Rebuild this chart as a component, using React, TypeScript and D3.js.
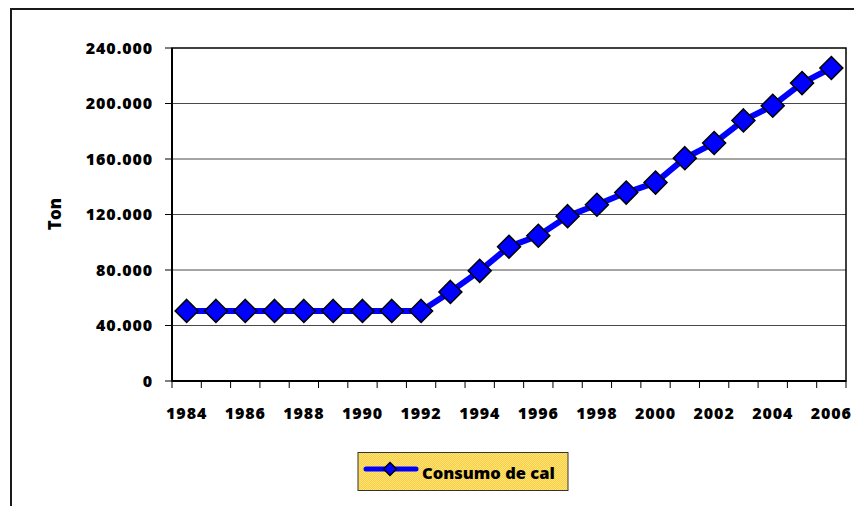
import React from 'react';
import * as d3 from 'd3';

// datos
const years = d3.range(1984, 2007).map(String);
const consumo = [
  50500, 50500, 50500, 50500, 50500, 50500, 50500, 50500, 50500,
  64200, 79400, 96800, 104700, 118800, 127000, 135800, 143000,
  160600, 171500, 187800, 198400, 214700, 225600,
];
const yTicks = [0, 40000, 80000, 120000, 160000, 200000, 240000];
const xLabels = years.filter((_, i) => i % 2 === 0);
const seriesName = 'Consumo de cal';
const yTitle = 'Ton';

const W = 854;
const H = 506;
const plot = { left: 172, top: 48, right: 846, bottom: 381 };

const fmt = (v: number) => (v === 0 ? '0' : d3.format(',')(v).replace(/,/g, '.'));

const font = '"Open Sans", Lato, sans-serif';

export default function App() {
  const x = d3.scaleBand<string>().domain(years).range([plot.left, plot.right]);
  const y = d3.scaleLinear().domain([0, 240000]).range([plot.bottom, plot.top]);

  const pts = consumo.map((v, i) => [x(years[i])! + x.bandwidth() / 2, y(v)] as [number, number]);
  const line = d3.line()(pts) || '';
  const diamond = (s: number) => `M0,${-s}L${s},0L0,${s}L${-s},0Z`;

  // bordes de categoría para las marcas del eje x
  const xEdges = years.map(c => x(c)!).concat([plot.right]);

  return (
    <svg width={W} height={H} style={{ position: 'absolute', left: 0, top: 0 }} fontFamily={font}>
      <defs>
        <pattern id="dots" width={2} height={2} patternUnits="userSpaceOnUse">
          <rect width={2} height={2} fill="#f8cf40" />
          <rect width={1} height={1} fill="#ffe27a" />
          <rect x={1} y={1} width={1} height={1} fill="#ffe27a" />
        </pattern>
      </defs>
      <rect width={W} height={H} fill="#fff" />
      {/* marco exterior (recortado a la derecha y abajo) */}
      <path d={`M11,${H + 2}V9H${W + 2}`} fill="none" stroke="#1a1a1a" strokeWidth={2} />

      {/* rejilla */}
      {yTicks.slice(1, -1).map(t => (
        <line key={t} x1={plot.left} x2={plot.right} y1={y(t)} y2={y(t)} stroke="#4a4a4a" strokeWidth={1} />
      ))}
      <rect x={plot.left} y={plot.top} width={plot.right - plot.left} height={plot.bottom - plot.top}
        fill="none" stroke="#000" strokeWidth={1.5} />
      <line x1={plot.left} x2={plot.left} y1={plot.top} y2={plot.bottom} stroke="#000" strokeWidth={2} />
      <line x1={plot.left} x2={plot.right} y1={plot.bottom} y2={plot.bottom} stroke="#000" strokeWidth={2} />

      {/* eje y */}
      {yTicks.map(t => (
        <g key={t}>
          <line x1={plot.left - 7} x2={plot.left} y1={y(t)} y2={y(t)} stroke="#000" strokeWidth={1} />
          <text x={153} y={y(t)} dy="0.35em" textAnchor="end" fontSize={16} fontWeight={800}
            letterSpacing={0.9}>{fmt(t)}</text>
        </g>
      ))}
      <text transform={`translate(61,214) rotate(-90)`} textAnchor="middle" fontSize={17}
        fontWeight={800}>{yTitle}</text>

      {/* eje x */}
      {xEdges.map((e, i) => (
        <line key={i} x1={e} x2={e} y1={plot.bottom} y2={plot.bottom + 7} stroke="#000" strokeWidth={1} />
      ))}
      {xLabels.map(c => (
        <text key={c} x={x(c)! + x.bandwidth() / 2} y={419} textAnchor="middle" fontSize={16}
          fontWeight={800} letterSpacing={0.9}>{c}</text>
      ))}

      {/* serie */}
      <path d={line} fill="none" stroke="#0000ff" strokeWidth={6} strokeLinejoin="round" />
      {pts.map(([px, py], i) => (
        <path key={i} d={diamond(11.5)} transform={`translate(${px},${py})`} fill="#0000ff"
          stroke="#000" strokeWidth={1.5} />
      ))}

      {/* leyenda */}
      <rect x={358} y={452.5} width={210} height={38} fill="url(#dots)" stroke="#333" strokeWidth={1} />
      <line x1={366} x2={416} y1={469} y2={469} stroke="#0000ff" strokeWidth={5} strokeLinecap="round" />
      <path d={diamond(6.5)} transform="translate(390,469)" fill="#0000ff" stroke="#000" strokeWidth={1.5} />
      <text x={422} y={479} fontSize={16.5} fontWeight={800}>{seriesName}</text>
    </svg>
  );
}
